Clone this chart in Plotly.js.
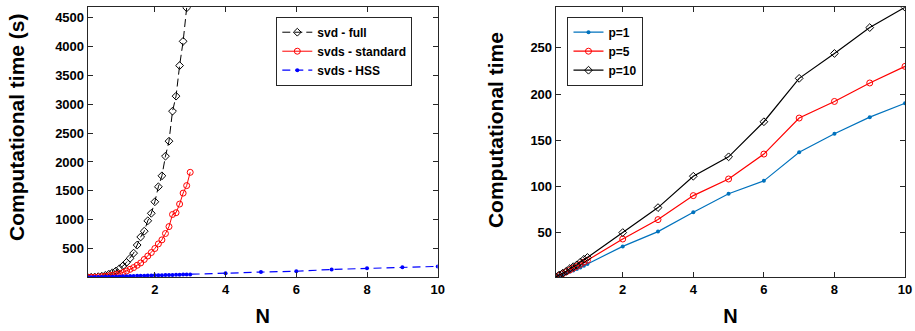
<!DOCTYPE html>
<html><head><meta charset="utf-8">
<script src="https://cdn.plot.ly/plotly-3.0.1.min.js"></script>
<style>html,body{margin:0;padding:0;background:#fff}#c{width:915px;height:331px}</style>
</head><body><div id="c"></div>
<script>
// Left panel
const nFine = [0.1,0.2,0.3,0.4,0.5,0.6,0.7,0.8,0.9,1.0,1.1,1.2,1.3,1.4,1.5,1.6,1.7,1.8,1.9,2.0,2.1,2.2,2.3,2.4,2.5,2.6,2.7,2.8,2.9,3.0];
const svdFullN = nFine.slice(0,29);
const svdFull = [1,3,6,12,20,35,55,80,110,150,200,260,330,420,560,700,800,980,1110,1310,1570,1760,2100,2360,2880,3140,3670,4090,4670];
const svdsStd = [1,2,4,8,12,19,27,38,50,65,85,110,140,170,210,250,310,370,430,500,580,650,760,880,1090,1120,1270,1460,1590,1820];
const hssN = [0.1,0.2,0.3,0.4,0.5,0.6,0.7,0.8,0.9,1.0,1.1,1.2,1.3,1.4,1.5,1.6,1.7,1.8,1.9,2.0,2.1,2.2,2.3,2.4,2.5,2.6,2.7,2.8,2.9,3.0,4,5,6,7,8,9,10];
const svdsHSS = [1.5,3,4.5,6,7.5,9,10.5,12,14,16,18,20,22,24,26,27,29,31,33,35,36,38,40,41,43,45,46,48,49,51,72,92,106,137,157,175,190];
// Right panel
const nRight = [0.1,0.2,0.3,0.4,0.5,0.6,0.7,0.8,0.9,1,2,3,4,5,6,7,8,9,10];
const p1 = [1.5,3,4.5,6,7.5,9,10.5,12,14,16,35,51,72,92,106,137,157,175,190];
const p5 = [1.8,3.5,5.5,7.5,9.5,11.5,13.5,15.5,18,20,43,64,90,108,135,174,192,212,230];
const p10 = [2,4,6,8,11,13,15,18,21,23,50,77,111,132,170,217,244,272,294];
const leftTicks = [500,1000,1500,2000,2500,3000,3500,4000,4500];
const rightTicks = [50,100,150,200,250];
const xTicks = [2,4,6,8,10];

const axC = '#262626';
const fam = 'Liberation Sans, Arial, sans-serif';
const font = {family:fam, size:13, color:'#000'};
function xa(dom, anchor){return {domain:dom, anchor:anchor, range:[0.1,10], tickvals:xTicks, ticks:'inside', ticklen:5, tickcolor:axC, showline:true, linecolor:axC, linewidth:1, mirror:'ticks', showgrid:false, zeroline:false, tickfont:{family:fam,size:13,color:'#000',weight:'bold'}, title:{text:'<b>N</b>', font:{family:fam,size:20,color:'#000'}, standoff:13}};}
function ya(dom, anchor, range, tv){return {domain:dom, anchor:anchor, range:range, tickvals:tv, ticks:'inside', ticklen:5, tickcolor:axC, showline:true, linecolor:axC, linewidth:1, mirror:'ticks', showgrid:false, zeroline:false, tickfont:{family:fam,size:13,color:'#000',weight:'bold'}};}

const yd=[0.1622,0.978];
const traces = [
 {x:svdFullN, y:svdFull, name:'svd - full', mode:'lines+markers', line:{color:'#000',width:1,dash:'8px,4px'}, marker:{symbol:'diamond-open',size:6,color:'#000',line:{width:1}}, xaxis:'x', yaxis:'y', legend:'legend'},
 {x:nFine, y:svdsStd, name:'svds - standard', mode:'lines+markers', line:{color:'#ff0000',width:1}, marker:{symbol:'circle-open',size:6,color:'#ff0000',line:{width:1}}, xaxis:'x', yaxis:'y', legend:'legend'},
 {x:hssN, y:svdsHSS, name:'svds - HSS', mode:'lines+markers', line:{color:'#0000ff',width:1.2,dash:'8px,5px'}, marker:{symbol:'circle',size:4,color:'#0000ff'}, xaxis:'x', yaxis:'y', legend:'legend'},
 {x:nRight, y:p1, name:'p=1', mode:'lines+markers', line:{color:'#0072BD',width:1.2}, marker:{symbol:'circle',size:4,color:'#0072BD'}, xaxis:'x2', yaxis:'y2', legend:'legend2'},
 {x:nRight, y:p5, name:'p=5', mode:'lines+markers', line:{color:'#ff0000',width:1.2}, marker:{symbol:'circle-open',size:6,color:'#ff0000',line:{width:1}}, xaxis:'x2', yaxis:'y2', legend:'legend2'},
 {x:nRight, y:p10, name:'p=10', mode:'lines+markers', line:{color:'#000',width:1.2}, marker:{symbol:'diamond-open',size:6,color:'#000',line:{width:1}}, xaxis:'x2', yaxis:'y2', legend:'legend2'}
];
const legFont = {family:fam,size:12,color:'#000',weight:'bold'};
const titleFont = {family:fam,size:21,color:'#000'};
const layout = {
 width:915, height:331, margin:{l:0,r:0,t:0,b:0}, paper_bgcolor:'#fff', plot_bgcolor:'#fff', font:font,
 xaxis:xa([0.0958,0.4784],'y'), yaxis:ya(yd,'x',[1,4680],leftTicks),
 xaxis2:xa([0.6073,0.9891],'y2'), yaxis2:ya(yd,'x2',[1.5,294],rightTicks),
 annotations:[
  {xref:'paper',yref:'paper',x:0.0175,y:0.6163,xanchor:'center',yanchor:'middle',textangle:-90,showarrow:false,text:'<b>Computational time (s)</b>',font:titleFont},
  {xref:'paper',yref:'paper',x:0.5410,y:0.607,xanchor:'center',yanchor:'middle',textangle:-90,showarrow:false,text:'<b>Computational time</b>',font:titleFont}
 ],
 legend:{x:0.4506,y:0.9495,xanchor:'right',yanchor:'top',bordercolor:'#262626',borderwidth:1,bgcolor:'#fff',font:legFont,tracegroupgap:0,itemwidth:30},
 legend2:{x:0.6202,y:0.9495,xanchor:'left',yanchor:'top',bordercolor:'#262626',borderwidth:1,bgcolor:'#fff',font:legFont,tracegroupgap:0,itemwidth:30},
 showlegend:true
};
Plotly.newPlot('c', traces, layout, {displayModeBar:false, staticPlot:true});
</script></body></html>
